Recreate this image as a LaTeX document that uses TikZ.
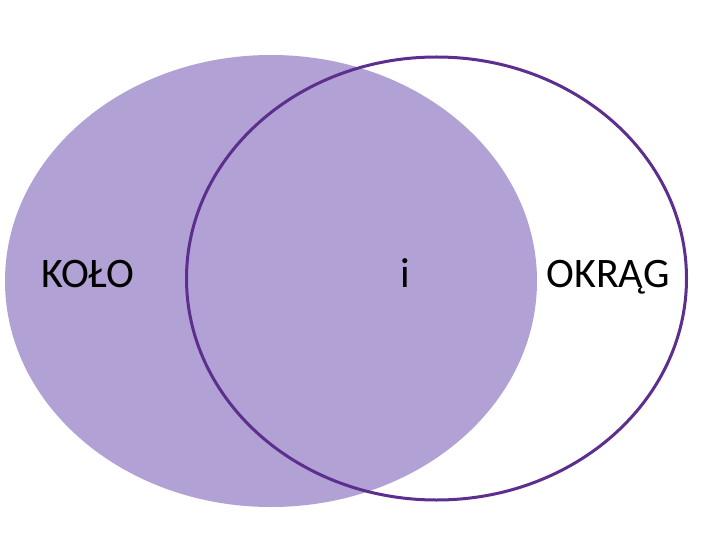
\documentclass[tikz,border=0pt]{standalone}
\usepackage{fontspec}
\setmainfont{Carlito}
\definecolor{lilac}{HTML}{B1A1D4}
\definecolor{violet}{HTML}{5C2E8E}
\begin{document}
\begin{tikzpicture}[x=1pt,y=-1pt,
  lbl/.style={font=\fontsize{42}{42}\selectfont, text=black, inner sep=0pt, anchor=base}]
\useasboundingbox (0,0) rectangle (720,540);
\fill[white] (0,0) rectangle (720,540);
\fill[lilac] (271,281) ellipse [x radius=266, y radius=226];
\draw[violet, line width=3pt] (436.5,278.5) ellipse [x radius=250, y radius=221.5];
\node[lbl] (kolo) at (88,287) {KOŁO};
\node[lbl] (i) at (405,287) {i};
\node[lbl] (okrag) at (608,287) {OKRĄG};
\end{tikzpicture}
\end{document}
